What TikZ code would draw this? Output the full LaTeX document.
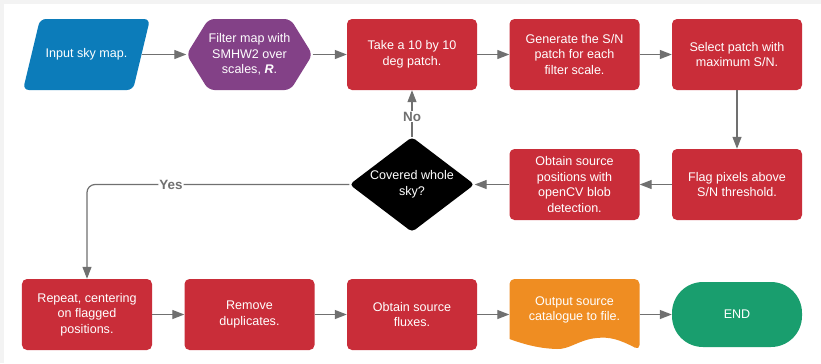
\documentclass[tikz,border=0pt]{standalone}
\usepackage{fontspec}
\setmainfont{Liberation Sans}
\usetikzlibrary{shapes.geometric,arrows.meta,backgrounds}

\definecolor{mapblue}{RGB}{12,124,186}
\definecolor{filterpurple}{RGB}{131,65,135}
\definecolor{stepred}{RGB}{201,45,57}
\definecolor{fileorange}{RGB}{239,141,34}
\definecolor{endgreen}{RGB}{25,158,110}
\definecolor{linegray}{RGB}{112,112,112}
\definecolor{framegray}{RGB}{243,243,243}

\begin{document}
\begin{tikzpicture}
  [x=1bp,y=-1bp,
   every node/.style={text=white,align=center,inner sep=0pt,font=\fontsize{12.6}{15.7}\selectfont},
   stepbox/.style={rectangle,rounded corners=5bp,fill=stepred,minimum width=130bp,minimum height=71bp},
   bodybox/.style={rectangle,minimum width=#1,minimum height=71bp},
   decision/.style={diamond,aspect=1.32,rounded corners=4bp,fill=black,minimum width=125bp,minimum height=95bp},
   endbox/.style={rectangle,rounded corners=31bp,fill=endgreen,minimum width=130bp,minimum height=65bp},
   flow/.style={draw=linegray,line width=1.2bp,-{Triangle[length=12bp,width=9bp]}},
   answer/.style={text=linegray,fill=white,inner sep=1bp,font=\fontsize{13.5}{16}\selectfont\bfseries}]
  \useasboundingbox (0,0) rectangle (821,363);

  \node[bodybox=110bp] (in) at (86.5,54.5) {Input sky map.};
  \node[bodybox=126bp] (flt) at (249.5,54.5) {Filter map with\\SMHW2 over\\scales, \textbf{\textit{R}}.};
  \node[stepbox] (tk)   at (412,54.5)   {Take a 10 by 10\\deg patch.};
  \node[stepbox] (gen)  at (574.5,54.5) {Generate the S/N\\patch for each\\filter scale.};
  \node[stepbox] (sel)  at (737,54.5)   {Select patch with\\maximum S/N.};
  \node[stepbox] (flag) at (737,184.5)  {Flag pixels above\\S/N threshold.};
  \node[stepbox] (obt)  at (574.5,184.5) {Obtain source\\positions with\\openCV blob\\detection.};
  \node[decision] (cov) at (412,184.5)  {Covered whole\\sky?};
  \node[stepbox] (rep)  at (87,314.5)   {Repeat, centering\\on flagged\\positions.};
  \node[stepbox] (rem)  at (249.5,314.5) {Remove\\duplicates.};
  \node[stepbox] (flux) at (412,314.5)  {Obtain source\\fluxes.};
  \node[bodybox=130bp,text depth=12bp] (outp) at (574.5,314.5) {Output source\\catalogue to file.};
  \node[endbox] (end)   at (737,314.5)  {END};

  % shapes that are not plain boxes
  \begin{scope}[on background layer]
    \fill[framegray] (0,0) rectangle (821,363);
    \fill[white] (3.5,3.5) rectangle (821,363);
    \fill[mapblue,rounded corners=6bp,shift={(in.center)}]
      (-46.5,-35.5) -- (63.5,-35.5) -- (46.5,35.5) -- (-63.5,35.5) -- cycle;
    \fill[filterpurple,rounded corners=6bp,shift={(flt.center)}]
      (-63,0) -- (-41,-35.5) -- (41,-35.5) -- (63,0) -- (41,35.5) -- (-41,35.5) -- cycle;
    \fill[fileorange,rounded corners=5bp,shift={(outp.center)}]
      (-65,24.5) -- (-65,-35.5) -- (65,-35.5) -- (65,35.5)
      [sharp corners] .. controls (45,25) and (35,22) .. (22,23.5)
      .. controls (5,25) and (-5,35) .. (-17.5,34.5)
      .. controls (-35,34) and (-50,30) .. (-65,24.5) -- cycle;
  \end{scope}

  \foreach \from/\to in {in/flt, flt/tk, tk/gen, gen/sel, sel/flag, flag/obt, obt/cov,
                         rep/rem, rem/flux, flux/outp, outp/end}
    \draw[flow] (\from) -- (\to);

  \draw[flow] (cov.north) -- node[answer,pos=0.43] {No} (tk.south);
  \draw[flow,rounded corners=8bp] (cov.west) -| node[answer,pos=0.34] {Yes} (rep.north);

\end{tikzpicture}
\end{document}
